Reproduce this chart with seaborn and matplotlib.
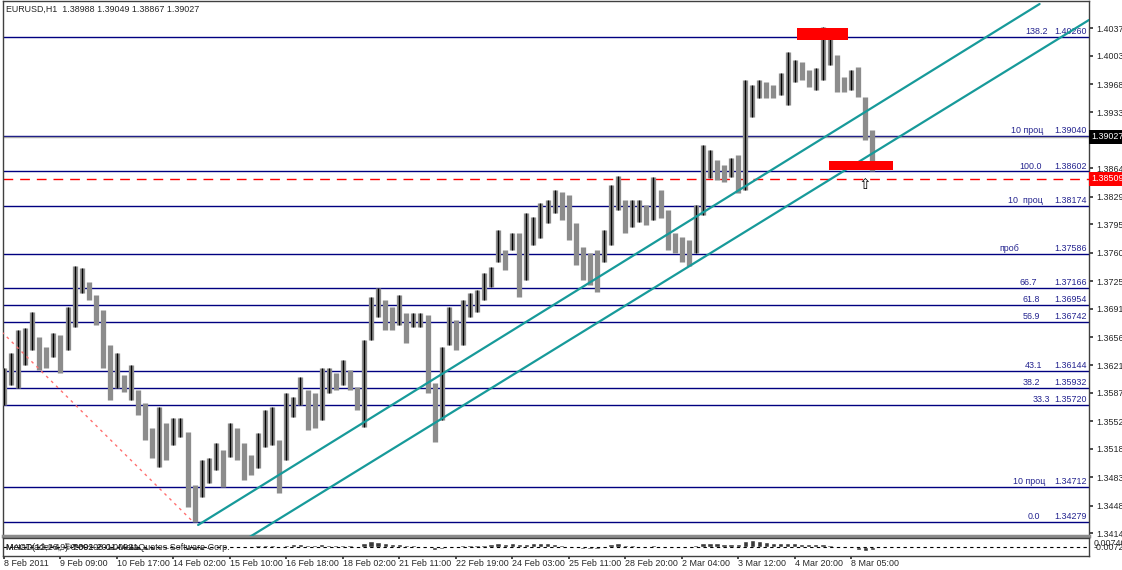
import numpy as np
import pandas as pd
import matplotlib
matplotlib.use("Agg")
import matplotlib.pyplot as plt
import matplotlib.transforms as mtransforms
from matplotlib.patches import Rectangle
import seaborn as sns

# EURUSD H1 chart, traced as 4-hour bars (high / low)
bar_high = [1.3618, 1.3636, 1.3665, 1.3667, 1.3687, 1.3656, 1.3644, 1.3661, 1.3659, 1.3693,
            1.3744, 1.3741, 1.3724, 1.3708, 1.3689, 1.3646, 1.3636, 1.3609, 1.3622, 1.3591,
            1.3575, 1.3544, 1.3570, 1.3550, 1.3556, 1.3556, 1.3539, 1.3474, 1.3504, 1.3507,
            1.3525, 1.3517, 1.3550, 1.3544, 1.3525, 1.3511, 1.3538, 1.3566, 1.3570, 1.3529,
            1.3587, 1.3582, 1.3607, 1.3591, 1.3587, 1.3618, 1.3618, 1.3612, 1.3628, 1.3615,
            1.3594, 1.3652, 1.3705, 1.3717, 1.3702, 1.3693, 1.3708, 1.3686, 1.3686, 1.3686,
            1.3683, 1.3599, 1.3644, 1.3693, 1.3677, 1.3702, 1.3710, 1.3714, 1.3735, 1.3742,
            1.3788, 1.3763, 1.3784, 1.3784, 1.3809, 1.3804, 1.3821, 1.3825, 1.3837, 1.3835,
            1.3831, 1.3797, 1.3767, 1.3760, 1.3763, 1.3788, 1.3844, 1.3855, 1.3825, 1.3825,
            1.3825, 1.3819, 1.3853, 1.3837, 1.3813, 1.3784, 1.3779, 1.3776, 1.3819, 1.3893,
            1.3887, 1.3874, 1.3868, 1.3877, 1.3881, 1.3973, 1.3967, 1.3973, 1.3971, 1.3967,
            1.3982, 1.4008, 1.3998, 1.3995, 1.3985, 1.3988, 1.4038, 1.4035, 1.4004, 1.3977,
            1.3985, 1.3989, 1.3952, 1.3911]
bar_low = [1.3572, 1.3597, 1.3593, 1.3622, 1.3640, 1.3615, 1.3618, 1.3631, 1.3612, 1.3640,
           1.3668, 1.3710, 1.3702, 1.3671, 1.3618, 1.3578, 1.3593, 1.3588, 1.3578, 1.3560,
           1.3529, 1.3507, 1.3496, 1.3504, 1.3523, 1.3533, 1.3446, 1.3428, 1.3459, 1.3476,
           1.3492, 1.3471, 1.3508, 1.3504, 1.3480, 1.3486, 1.3495, 1.3520, 1.3523, 1.3464,
           1.3504, 1.3557, 1.3572, 1.3541, 1.3544, 1.3554, 1.3587, 1.3591, 1.3597, 1.3591,
           1.3566, 1.3545, 1.3652, 1.3681, 1.3665, 1.3665, 1.3671, 1.3649, 1.3668, 1.3668,
           1.3587, 1.3527, 1.3554, 1.3646, 1.3640, 1.3646, 1.3681, 1.3687, 1.3702, 1.3718,
           1.3749, 1.3739, 1.3763, 1.3705, 1.3726, 1.3770, 1.3778, 1.3797, 1.3809, 1.3800,
           1.3776, 1.3745, 1.3726, 1.3720, 1.3712, 1.3749, 1.3770, 1.3813, 1.3784, 1.3792,
           1.3798, 1.3794, 1.3800, 1.3803, 1.3763, 1.3760, 1.3749, 1.3744, 1.3760, 1.3807,
           1.3852, 1.3850, 1.3847, 1.3853, 1.3834, 1.3837, 1.3927, 1.3951, 1.3951, 1.3951,
           1.3955, 1.3942, 1.3971, 1.3973, 1.3964, 1.3961, 1.3973, 1.3992, 1.3958, 1.3958,
           1.3961, 1.3952, 1.3899, 1.3861]

# sub-window histogram
osc = [0.0005, 0.0008, 0.0010, 0.0012, 0.0010, 0.0008, 0.0012, 0.0015, 0.0010,
       0.0020, 0.0030, 0.0028, 0.0020, 0.0012,
       -0.0005, -0.0012, -0.0015, -0.0018, -0.0020, -0.0022, -0.0025, -0.0022, -0.0018,
       -0.0015, -0.0012, -0.0010, -0.0020, -0.0028, -0.0022, -0.0015,
       -0.0008, -0.0004, 0.0003, 0.0006, 0.0005, 0.0004,
       0.0015, 0.0020, 0.0018, 0.0012, 0.0020, 0.0022, 0.0025, 0.0020, 0.0018, 0.0022,
       0.0020, 0.0018, 0.0020, 0.0015, 0.0010,
       0.0035, 0.0050, 0.0045,
       0.0030, 0.0025, 0.0022, 0.0018, 0.0015, 0.0012,
       -0.0010, -0.0020, -0.0012,
       0.0008, 0.0012, 0.0015, 0.0015, 0.0018, 0.0020, 0.0022, 0.0030, 0.0028, 0.0030,
       0.0025, 0.0028, 0.0030, 0.0032, 0.0030, 0.0025,
       0.0015, 0.0005,
       -0.0008, -0.0012, -0.0015, -0.0012, -0.0005,
       0.0025, 0.0030,
       0.0020, 0.0015, 0.0012, 0.0012, 0.0015, 0.0010,
       -0.0005, -0.0008, -0.0010, -0.0006,
       0.0015, 0.0030, 0.0035, 0.0030, 0.0028, 0.0025, 0.0022,
       0.0050, 0.0055, 0.0050, 0.0045,
       0.0035, 0.0030, 0.0032, 0.0030, 0.0028, 0.0025, 0.0022, 0.0028,
       0.0020, 0.0012, 0.0005, -0.0005,
       -0.0020, -0.0030, -0.0028]

# fibo levels
fib_prices = [1.40260, 1.39040, 1.38602, 1.38174, 1.37586, 1.37166, 1.36954,
              1.36742, 1.36144, 1.35932, 1.35720, 1.34712, 1.34279]
fib_names = ["138.2", "10 проц", "100.0", "10  проц", "проб", "66.7", "61.8",
             "56.9", "43.1", "38.2", "33.3", "10 проц", "0.0"]

price_ticks = [1.40370, 1.40030, 1.39680, 1.39330, 1.38990, 1.38640, 1.38290,
               1.37950, 1.37600, 1.37250, 1.36910, 1.36560, 1.36210, 1.35870,
               1.35520, 1.35180, 1.34830, 1.34480, 1.34140]
date_labels = ["8 Feb 2011", "9 Feb 09:00", "10 Feb 17:00", "14 Feb 02:00",
               "15 Feb 10:00", "16 Feb 18:00", "18 Feb 02:00", "21 Feb 11:00",
               "22 Feb 19:00", "24 Feb 03:00", "25 Feb 11:00", "28 Feb 20:00",
               "2 Mar 04:00", "3 Mar 12:00", "4 Mar 20:00", "8 Mar 05:00"]

title = "EURUSD,H1  1.38988 1.39049 1.38867 1.39027"
last_price = 1.39027
alert_price = 1.38509

# objects drawn on the chart: (bar, price) anchors
channel_upper = ([27.5, 146.7], [1.34242, 1.40667])
channel_lower = ([34.8, 153.7], [1.34094, 1.40470])
fan_line = ([-0.3, 26.8], [1.36622, 1.34279])
top_zone = (112.3, 119.5, 1.40223, 1.40371)
bottom_zone = (116.9, 126.0, 1.38620, 1.38731)
arrow_at = (122.0, 1.38440)

assert len(bar_high) == len(bar_low) == len(osc)

sns.set_theme(style="white")
plt.rcParams["font.family"] = ["Liberation Sans", "DejaVu Sans"]
FS = 6.4

W, H = 1122, 570
fig = plt.figure(figsize=(W / 100, H / 100), dpi=100)


def px_box(x0, y0, x1, y1):
    return [x0 / W, 1 - y1 / H, (x1 - x0) / W, (y1 - y0) / H]


ax = fig.add_axes(px_box(3, 1, 1089, 536))
ax_ind = fig.add_axes(px_box(3, 538, 1089, 556))

df = pd.DataFrame({"bar": np.arange(len(bar_high)), "high": bar_high,
                   "low": bar_low, "osc": osc})
mid = (df["high"] + df["low"]) / 2
up = mid.diff().fillna(0) >= 0

# price bars
ax.vlines(df["bar"], df["low"], df["high"], color="#8c8c8c", lw=3.8, zorder=3)
ax.vlines(df["bar"][up], df["low"][up], df["high"][up], color="black", lw=1.0, zorder=3)

# fibo lines and labels
navy = "#000080"
lab_col = "#23238f"
trans = mtransforms.blended_transform_factory(ax.transAxes, ax.transData)
name_right = [1048, 1043, 1042, 1043, 1019, 1037, 1040, 1040, 1042, 1040, 1050, 1045, 1040]
for p, name, xr in zip(fib_prices, fib_names, name_right):
    ax.axhline(p, color=navy, lw=1, zorder=2)
    ax.text((xr - 3) / 1086, p + 0.00010, name, transform=trans, ha="right",
            va="bottom", fontsize=FS, color=lab_col)
    ax.text((1087 - 3) / 1086, p + 0.00010, f"{p:.5f}", transform=trans, ha="right",
            va="bottom", fontsize=FS, color=lab_col)

ax.axhline(last_price, color="#a8a8a8", lw=1, zorder=2)
ax.axhline(alert_price, color="red", lw=1, ls=(0, (7, 5)), zorder=2)

# channel and fan lines
ax.plot(*channel_upper, color="#179a9a", lw=1.6, zorder=4)
ax.plot(*channel_lower, color="#179a9a", lw=1.6, zorder=4)
ax.plot(*fan_line, color="#ff7070", lw=1, ls=(0, (2, 3)), zorder=4)

for x0, x1, p0, p1 in [top_zone, bottom_zone]:
    ax.add_patch(Rectangle((x0, p0), x1 - x0, p1 - p0, color="red", lw=0, zorder=5))

ax.text(arrow_at[0], arrow_at[1], "\u21e7", ha="center", va="center",
        fontsize=11, color="black", family="DejaVu Sans", zorder=6)

ax.set_xlim(-0.14, 153.7)
ax.set_ylim(1.34106, 1.40704)
ax.set_xticks([])
ax.yaxis.tick_right()
ax.set_yticks(price_ticks)
ax.set_yticklabels([f"{t:.5f}" for t in price_ticks], fontsize=FS)
ax.tick_params(axis="y", length=3, pad=2, direction="out", right=True, color="#333333")

ax.text(1.002, last_price, "1.39027", transform=trans, ha="left", va="center",
        fontsize=FS, color="white", clip_on=False, zorder=7,
        bbox=dict(facecolor="black", edgecolor="none", pad=1.6))
ax.text(1.002, alert_price, "1.38509", transform=trans, ha="left", va="center",
        fontsize=FS, color="white", clip_on=False, zorder=7,
        bbox=dict(facecolor="red", edgecolor="none", pad=1.6))

for s in ax.spines.values():
    s.set_color("#404040")
    s.set_linewidth(1)
ax.spines["bottom"].set_color("#8c8c8c")
ax.spines["bottom"].set_linewidth(2.5)

# indicator sub-window
sns.barplot(data=df, x="bar", y="osc", native_scale=True, ax=ax_ind,
            color="#3a3a3a", saturation=1, width=0.75, errorbar=None)
ax_ind.axhline(0, color="black", lw=0.8, ls=(0, (3, 3)))
ax_ind.set_xlim(-0.14, 153.7)
ax_ind.set_ylim(-0.0073, 0.0074)
ax_ind.set_xlabel("")
ax_ind.set_ylabel("")
ax_ind.set_yticks([])
ax_ind.set_xticks(np.arange(len(date_labels)) * 8)
ax_ind.set_xticklabels(date_labels, fontsize=FS, ha="left")
ax_ind.tick_params(axis="x", length=2, pad=0.5, direction="out", bottom=True, color="#333333")
for s in ax_ind.spines.values():
    s.set_color("#404040")
    s.set_linewidth(1)

ax_ind.text(0.003, 0.45, "MACD(12,26,9) 0.00208 0.00021", transform=ax_ind.transAxes,
            fontsize=FS, va="center", color="#222222")
ax_ind.text(0.003, 0.45, "MetaTrader 4, \u00a9 2001-2011 MetaQuotes Software Corp.",
            transform=ax_ind.transAxes, fontsize=FS, va="center", color="#222222")
ax_ind.text(1.004, 0.72, "0.00740", transform=ax_ind.transAxes, fontsize=FS,
            va="center", ha="left")
ax_ind.text(1.004, 0.48, "-0.00726", transform=ax_ind.transAxes, fontsize=FS,
            va="center", ha="left")

fig.text(6 / W, 1 - 9 / H, title, fontsize=FS, va="center", ha="left")

fig.savefig("out.png", dpi=100)
